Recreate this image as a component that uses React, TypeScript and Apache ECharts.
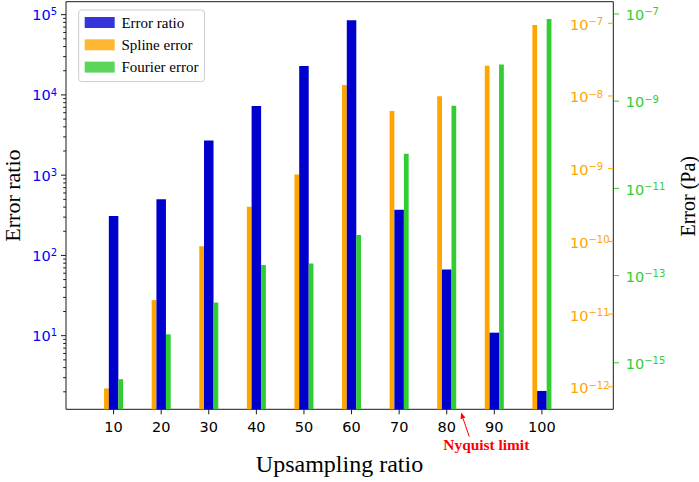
import React, { useEffect, useRef } from 'react';
import * as echarts from 'echarts';

// ---- data ----
const upsamplingRatios = [10, 20, 30, 40, 50, 60, 70, 80, 90, 100];
const errorRatio = [310, 500, 2700, 7300, 23000, 85000, 370, 67, 10.9, 2.05];
const splineError = [9.5e-13, 1.56e-11, 8.6e-11, 3.0e-10, 8.3e-10, 1.42e-8, 6.2e-9, 9.9e-9, 2.6e-8, 9.5e-8];
const fourierError = [4.2e-16, 4.5e-15, 2.4e-14, 1.75e-13, 1.9e-13, 8.5e-13, 6.2e-11, 7.8e-10, 6.9e-9, 7.7e-8];

// tick values and their labels (base 10, exponent as superscript)
const ratioTickValues = [10, 100, 1000, 10000, 100000];
const ratioTickExponents = ['1', '2', '3', '4', '5'];
const splineTickValues = [1e-12, 1e-11, 1e-10, 1e-9, 1e-8, 1e-7];
const splineTickExponents = ['−12', '−11', '−10', '−9', '−8', '−7'];
const fourierTickValues = [1e-15, 1e-13, 1e-11, 1e-9, 1e-7];
const fourierTickExponents = ['−15', '−13', '−11', '−9', '−7'];
const tickBase = '10';
const xTickValues = [10, 20, 30, 40, 50, 60, 70, 80, 90, 100];

const seriesNames = ['Error ratio', 'Spline error', 'Fourier error'];

// axis ranges
const X_MIN = 0;
const X_MAX = 115;
const RATIO_MIN = 1.21;
const RATIO_MAX = 1.45e5;
const SPLINE_MIN = 4.91e-13;
const SPLINE_MAX = 1.98e-7;
const FOURIER_MIN = 8.57e-17;
const FOURIER_MAX = 1.91e-7;

const BLUE = '#0000cd';
const ORANGE = '#ffa500';
const GREEN = '#32cd32';
const SANS = '"DejaVu Sans"';
const SERIF = '"Liberation Serif"';
const BASE_FONT = `14.5px ${SANS}`;
const EXP_FONT = `10px ${SANS}`;

// minor ticks for the left log axis (2..9 per decade)
const ratioMinorTicks: number[] = [];
[1, 10, 100, 1000, 10000].forEach((d) => {
  [2, 3, 4, 5, 6, 7, 8, 9].forEach((m) => {
    const v = d * m;
    if (v > RATIO_MIN && v < RATIO_MAX) ratioMinorTicks.push(v);
  });
});

let measureCtx: CanvasRenderingContext2D | null = null;
function textWidth(text: string, font: string): number {
  if (!measureCtx) measureCtx = document.createElement('canvas').getContext('2d');
  if (!measureCtx) return text.length * 8;
  measureCtx.font = font;
  return measureCtx.measureText(text).width;
}

function plainText(text: string, x: number, y: number, fill: string, font: string, align: string) {
  return {
    type: 'text',
    style: { text, x, y, fill, font, textAlign: align, textVerticalAlign: 'middle' },
  };
}

// "10" followed by a raised, smaller exponent; anchored at its left or right end
function powerLabel(exp: string, x: number, y: number, fill: string, anchor: 'left' | 'right') {
  const wBase = textWidth(tickBase, BASE_FONT);
  const wExp = textWidth(exp, EXP_FONT);
  const left = anchor === 'left' ? x : x - wBase - wExp;
  return [
    plainText(tickBase, left, y, fill, BASE_FONT, 'left'),
    plainText(exp, left + wBase, y - 3.2, fill, EXP_FONT, 'left'),
  ];
}

function barSeries(name: string, values: number[], yAxisIndex: number, yMin: number, from: number, to: number, color: string) {
  return {
    type: 'custom',
    name,
    xAxisIndex: 0,
    yAxisIndex,
    itemStyle: { color },
    encode: { x: 0, y: 1 },
    data: upsamplingRatios.map((x, i) => [x, values[i]]),
    renderItem: (params: any, api: any) => {
      const x = api.value(0) as number;
      const v = api.value(1) as number;
      const p1 = api.coord([x + from, v]);
      const p2 = api.coord([x + to, yMin]);
      return {
        type: 'rect',
        shape: { x: p1[0], y: p1[1], width: p2[0] - p1[0], height: p2[1] - p1[1] },
        style: { fill: color },
      };
    },
  };
}

export default function App() {
  const ref = useRef<HTMLDivElement>(null);

  useEffect(() => {
    if (!ref.current) return;
    const chart = echarts.init(ref.current, undefined, { renderer: 'svg' });

    const leftTickData = [
      ...ratioTickValues.map((v, i) => [X_MIN, v, 1, i]),
      ...ratioMinorTicks.map((v) => [X_MIN, v, 0, -1]),
    ];

    const option: any = {
      animation: false,
      grid: {
        left: 66,
        right: 85.7,
        top: 1.7,
        bottom: 72.7,
        show: true,
        borderColor: '#1a1a1a',
        borderWidth: 1,
        backgroundColor: 'transparent',
        containLabel: false,
      },
      legend: {
        orient: 'vertical',
        left: 78.7,
        top: 10,
        itemWidth: 30,
        itemHeight: 11,
        itemGap: 7.3,
        icon: 'rect',
        selectedMode: false,
        padding: [5, 6, 7, 6],
        backgroundColor: 'rgba(255,255,255,0.8)',
        borderColor: '#cccccc',
        borderWidth: 1,
        borderRadius: 3,
        textStyle: { fontFamily: SERIF, fontSize: 15, color: '#000', lineHeight: 15, padding: [0, 0, 0, 1.7] },
        data: [
          { name: seriesNames[0], itemStyle: { color: '#3535dc' } },
          { name: seriesNames[1], itemStyle: { color: '#ffb733' } },
          { name: seriesNames[2], itemStyle: { color: '#5bd65b' } },
        ],
      },
      xAxis: {
        type: 'value',
        min: X_MIN,
        max: X_MAX,
        interval: 10,
        axisLine: { show: false },
        axisTick: { show: false },
        splitLine: { show: false },
        axisLabel: {
          margin: 10,
          fontSize: 14.5,
          fontFamily: SANS,
          color: '#000',
          formatter: (v: number) => (xTickValues.indexOf(v) >= 0 ? String(v) : ''),
        },
      },
      yAxis: [
        { type: 'log', min: RATIO_MIN, max: RATIO_MAX, show: false, position: 'left' },
        { type: 'log', min: SPLINE_MIN, max: SPLINE_MAX, show: false, position: 'right' },
        { type: 'log', min: FOURIER_MIN, max: FOURIER_MAX, show: false, position: 'right' },
      ],
      series: [
        barSeries(seriesNames[1], splineError, 1, SPLINE_MIN, -2, -1, ORANGE),
        barSeries(seriesNames[0], errorRatio, 0, RATIO_MIN, -1, 1, BLUE),
        barSeries(seriesNames[2], fourierError, 2, FOURIER_MIN, 1, 2, GREEN),
        // left axis ticks + labels
        {
          type: 'custom',
          name: 'leftTicks',
          silent: true,
          xAxisIndex: 0,
          yAxisIndex: 0,
          encode: { x: 0, y: 1 },
          data: leftTickData,
          renderItem: (params: any, api: any) => {
            const cs = params.coordSys;
            const p = api.coord([X_MIN, api.value(1)]);
            const major = api.value(2) === 1;
            const children: any[] = [
              {
                type: 'line',
                shape: { x1: cs.x - (major ? 5 : 2.8), y1: p[1], x2: cs.x, y2: p[1] },
                style: { stroke: '#1a1a1a', lineWidth: 1 },
              },
            ];
            if (major) {
              const idx = api.value(3) as number;
              children.push(...powerLabel(ratioTickExponents[idx], cs.x - 9, p[1] + 0.4, '#0000ff', 'right'));
            }
            return { type: 'group', children };
          },
        },
        // orange (spline) axis ticks + labels, inside the right spine
        {
          type: 'custom',
          name: 'splineTicks',
          silent: true,
          xAxisIndex: 0,
          yAxisIndex: 1,
          encode: { x: 0, y: 1 },
          data: splineTickValues.map((v, i) => [X_MIN, v, i]),
          renderItem: (params: any, api: any) => {
            const cs = params.coordSys;
            const p = api.coord([X_MIN, api.value(1)]);
            const right = cs.x + cs.width;
            const idx = api.value(2) as number;
            return {
              type: 'group',
              children: [
                {
                  type: 'line',
                  shape: { x1: right - 5.3, y1: p[1], x2: right, y2: p[1] },
                  style: { stroke: ORANGE, lineWidth: 1 },
                },
                ...powerLabel(splineTickExponents[idx], right - 43.3, p[1] + 1.5, ORANGE, 'left'),
              ],
            };
          },
        },
        // green (fourier) axis ticks + labels, outside the right spine
        {
          type: 'custom',
          name: 'fourierTicks',
          silent: true,
          xAxisIndex: 0,
          yAxisIndex: 2,
          encode: { x: 0, y: 1 },
          data: fourierTickValues.map((v, i) => [X_MIN, v, i]),
          renderItem: (params: any, api: any) => {
            const cs = params.coordSys;
            const p = api.coord([X_MIN, api.value(1)]);
            const right = cs.x + cs.width;
            const idx = api.value(2) as number;
            return {
              type: 'group',
              children: [
                {
                  type: 'line',
                  shape: { x1: right + 0.7, y1: p[1], x2: right + 5.7, y2: p[1] },
                  style: { stroke: GREEN, lineWidth: 1 },
                },
                ...powerLabel(fourierTickExponents[idx], right + 12.4, p[1] + 1.2, GREEN, 'left'),
              ],
            };
          },
        },
        // x axis ticks
        {
          type: 'custom',
          name: 'xTicks',
          silent: true,
          xAxisIndex: 0,
          yAxisIndex: 0,
          encode: { x: 0, y: 1 },
          data: xTickValues.map((x) => [x, RATIO_MIN]),
          renderItem: (params: any, api: any) => {
            const cs = params.coordSys;
            const p = api.coord([api.value(0), RATIO_MIN]);
            const bottom = cs.y + cs.height;
            return {
              type: 'line',
              shape: { x1: p[0], y1: bottom, x2: p[0], y2: bottom + 5 },
              style: { stroke: '#1a1a1a', lineWidth: 1 },
            };
          },
        },
      ],
      graphic: [
        {
          type: 'text',
          x: 12.4,
          y: 195.6,
          rotation: Math.PI / 2,
          style: { text: 'Error ratio', x: 0, y: 0, fill: '#000', font: `22px ${SERIF}`, textAlign: 'center', textVerticalAlign: 'middle' },
        },
        {
          type: 'text',
          x: 687.6,
          y: 196.3,
          rotation: Math.PI / 2,
          style: { text: 'Error (Pa)', x: 0, y: 0, fill: '#000', font: `20px ${SERIF}`, textAlign: 'center', textVerticalAlign: 'middle' },
        },
        {
          type: 'text',
          x: 339.5,
          y: 464,
          style: { text: 'Upsampling ratio', x: 0, y: 0, fill: '#000', font: `24px ${SERIF}`, textAlign: 'center', textVerticalAlign: 'middle' },
        },
        {
          type: 'text',
          x: 486.3,
          y: 444.3,
          style: { text: 'Nyquist limit', x: 0, y: 0, fill: '#ff0000', font: `bold 15.4px ${SERIF}`, textAlign: 'center', textVerticalAlign: 'middle' },
        },
        {
          type: 'line',
          shape: { x1: 469.3, y1: 436.7, x2: 463, y2: 418.4 },
          style: { stroke: '#ff0000', lineWidth: 1 },
        },
        {
          type: 'polygon',
          shape: { points: [[461, 412.5], [465.4, 417.6], [460.6, 419.2]] },
          style: { fill: '#ff0000' },
        },
      ],
    };

    chart.setOption(option);
    return () => chart.dispose();
  }, []);

  return (
    <div
      ref={ref}
      style={{ position: 'fixed', left: 0, top: 0, width: 699, height: 482, background: '#fff' }}
    />
  );
}
